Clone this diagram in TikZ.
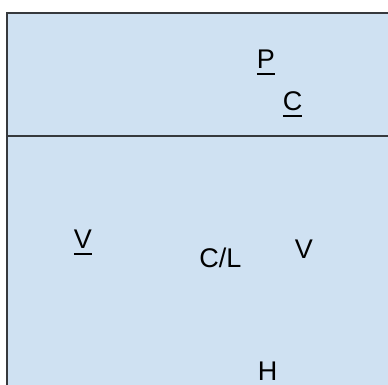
\documentclass[tikz,border=0pt]{standalone}
\usepackage{fontspec}
\setmainfont{Liberation Sans}
\definecolor{panelfill}{RGB}{207,225,242}
\definecolor{panelline}{RGB}{54,57,61}
% text with a heavier underline set a little below the baseline
\newcommand{\ulabel}[1]{\setbox0\hbox{#1}\rlap{\usebox0}\rlap{\raisebox{-6.5pt}{\rule{\wd0}{2pt}}}\hphantom{\usebox0}}
\tikzset{
  lbl/.style={inner sep=0pt, anchor=base, text=black, font=\fontsize{27}{30}\selectfont},
}
\begin{document}
\begin{tikzpicture}[x=1pt,y=-1pt]
  \useasboundingbox (0,0) rectangle (388,384);
  % panel and the divider between its header and body
  \fill[panelfill] (7,13) rectangle (400,400);
  \draw[panelline, line width=1.5pt] (400,13) -- (7,13) -- (7,400);
  \coordinate (divL) at (7,136);
  \coordinate (divR) at (400,136);
  \draw[panelline, line width=1.5pt] (divL) -- (divR);
  % header labels
  \node[lbl] (p) at (266,68) {\ulabel{P}};
  \node[lbl] (c) at (292.5,110) {\ulabel{C}};
  % body labels
  \node[lbl] (vu) at (83,248) {\ulabel{V}};
  \node[lbl] (cl) at (220.5,267) {C/L};
  \node[lbl] (v) at (304,258) {V};
  \node[lbl] (h) at (267.5,380) {H};
\end{tikzpicture}
\end{document}
